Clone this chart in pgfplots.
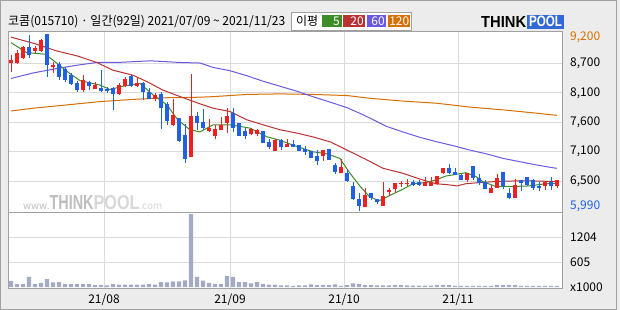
\documentclass[border=0pt]{standalone}
\usepackage{pgfplots}
\pgfplotsset{compat=1.18}
\usepackage{pgfplotstable}
\usepackage{graphicx}
\usepackage{fontspec}
\setmainfont{Noto Sans CJK KR}
\newfontfamily\logofont{Liberation Sans}
\definecolor{cBg}{RGB}{236,236,236}
\definecolor{cFrame}{RGB}{160,160,160}
\definecolor{cGrid}{RGB}{218,218,218}
\definecolor{cUp}{RGB}{238,32,32}
\definecolor{cDown}{RGB}{32,96,228}
\definecolor{cMAa}{RGB}{60,140,40}
\definecolor{cMAb}{RGB}{185,50,50}
\definecolor{cMAc}{RGB}{105,90,225}
\definecolor{cMAd}{RGB}{215,110,0}
\definecolor{cVol}{RGB}{162,170,196}
\definecolor{cLogo}{RGB}{50,105,215}
\definecolor{cWm}{RGB}{190,190,190}
\definecolor{cWmL}{RGB}{215,215,215}

\pgfplotstableread{
i o h l c
0 8670 8820 8510 8720
1 8670 8910 8660 8860
2 8760 8970 8750 8960
4 8880 8970 8860 8940
5 8890 9100 8870 9090
7 8590 8690 8480 8640
12 8180 8450 8150 8360
14 8200 8330 8200 8270
18 8110 8300 8090 8270
19 8250 8420 8240 8380
21 8250 8420 8240 8310
24 8020 8120 7990 8090
27 7550 8010 7520 7730
30 6970 8470 6970 7710
33 7440 7650 7420 7500
34 7350 7550 7290 7470
35 7460 7690 7460 7550
36 7580 7850 7400 7710
40 7380 7500 7360 7470
41 7380 7470 7350 7460
44 7080 7290 7080 7270
46 7140 7300 7140 7200
52 6990 7090 6890 7090
55 6680 6930 6680 6790
59 6050 6400 6050 6280
62 6080 6510 6080 6260
63 6330 6400 6260 6370
64 6380 6490 6310 6490
65 6470 6530 6420 6490
66 6480 6570 6440 6490
69 6440 6610 6440 6510
70 6430 6610 6430 6520
71 6480 6620 6460 6620
72 6680 6770 6660 6770
76 6550 6680 6520 6670
80 6320 6460 6320 6410
81 6410 6660 6400 6580
84 6230 6570 6230 6460
89 6430 6520 6370 6510
91 6440 6550 6410 6550
}\upcandles

\pgfplotstableread{
i o h l c
3 8960 9180 8770 8810
6 9200 9200 8420 8640
8 8650 8690 8370 8420
9 8560 8590 8330 8360
10 8450 8480 8270 8290
11 8300 8350 8150 8180
13 8330 8350 8180 8260
15 8210 8540 8150 8160
16 8200 8240 8130 8160
17 8220 8240 7810 8100
20 8430 8450 8240 8250
22 8310 8330 8000 8150
23 8150 8210 8020 8020
25 8110 8150 7470 7860
26 7930 7970 7550 7620
28 7680 7680 7240 7260
29 7360 7560 6860 6930
31 7710 7790 7460 7580
32 7600 7830 7460 7500
37 7760 7850 7410 7500
38 7580 7580 7350 7350
39 7440 7500 7290 7350
42 7440 7440 7220 7220
43 7230 7290 7110 7140
45 7270 7300 7090 7140
47 7200 7270 7140 7150
48 7180 7180 7080 7080
49 7110 7160 7010 7060
50 7070 7070 6940 6950
51 6980 7090 6820 6900
53 7110 7110 6910 6910
54 6820 6860 6660 6700
56 6670 6740 6520 6530
57 6430 6520 6190 6200
58 6200 6310 5990 6080
60 6310 6310 6190 6230
61 6200 6210 6110 6150
67 6520 6550 6440 6460
68 6520 6550 6440 6460
73 6770 6840 6660 6680
74 6700 6770 6630 6640
75 6630 6660 6550 6550
77 6800 6800 6550 6590
78 6580 6660 6460 6490
79 6510 6550 6380 6380
82 6690 6690 6380 6430
83 6320 6400 6200 6230
85 6550 6550 6350 6490
86 6600 6610 6430 6460
87 6550 6570 6370 6410
88 6440 6520 6350 6410
90 6510 6610 6370 6440
}\downcandles

\pgfplotstableread{
i v
0 149
1 75
2 75
3 246
4 75
5 100
6 197
7 117
8 124
9 75
10 75
11 75
12 75
13 70
14 51
15 51
16 45
17 75
18 60
19 60
20 60
21 60
22 60
23 75
24 60
25 124
26 117
27 141
28 141
29 166
30 1780
31 246
32 158
33 100
34 75
35 75
36 270
37 246
38 124
39 124
40 90
41 124
42 75
43 60
44 60
45 45
46 45
47 27
48 45
49 45
50 68
51 51
52 51
53 51
54 68
55 27
56 51
57 92
58 75
59 51
60 51
61 45
62 45
63 45
64 51
65 51
66 40
67 35
68 35
69 35
70 35
71 51
72 51
73 51
74 30
75 30
76 30
77 30
78 30
79 30
80 30
81 51
82 51
83 51
84 51
85 30
86 30
87 30
88 30
89 30
90 30
91 30
}\voldata

\begin{document}
\begin{tikzpicture}
\path[use as bounding box] (0,0) rectangle (620bp,-310bp);
\fill[cBg] (0,0) rectangle (620bp,-310bp);
\draw[cFrame, line width=1bp] (0.5bp,-0.5bp) rectangle (616.5bp,-309.5bp);
\fill[white] (8bp,-31bp) rectangle (562bp,-288bp);

% title
\node[anchor=west, inner sep=0pt] at (8bp,-22bp)
  {\resizebox{277bp}{\height}{\fontsize{12.5bp}{13bp}\selectfont 코콤(015710) · 일간(92일) 2021/07/09 \textasciitilde\ 2021/11/23}};

% moving-average legend
\draw[cFrame, fill=white, line width=1bp] (291.5bp,-12.5bp) rectangle (411.5bp,-30bp);
\node[anchor=west, inner sep=0pt, font=\fontsize{12bp}{12bp}\selectfont] at (296bp,-21.5bp) {이평};
\fill[cMAa] (321.5bp,-15bp) rectangle (341.5bp,-27bp);
\fill[cMAb] (343bp,-15bp) rectangle (365bp,-27bp);
\fill[cMAc] (366.5bp,-15bp) rectangle (386bp,-27bp);
\fill[cMAd] (387.5bp,-15bp) rectangle (410bp,-27bp);
\node[anchor=east, inner sep=0pt, text=white, font=\fontsize{12bp}{12bp}\selectfont] at (340bp,-21bp) {5};
\node[anchor=east, inner sep=0pt, text=white, font=\fontsize{12bp}{12bp}\selectfont] at (364bp,-21bp) {20};
\node[anchor=east, inner sep=0pt, text=white, font=\fontsize{12bp}{12bp}\selectfont] at (385bp,-21bp) {60};
\node[anchor=east, inner sep=0pt, text=white, font=\fontsize{12bp}{12bp}\selectfont] at (409.5bp,-21bp) {120};

% logo
\node[anchor=west, inner sep=0pt] at (481bp,-22bp) {\resizebox{45bp}{11bp}{\logofont\bfseries THINK}};
\fill[cLogo] (527bp,-15bp) rectangle (564bp,-28.5bp);
\node[anchor=center, inner sep=0pt, text=white] at (545.5bp,-21.8bp) {\resizebox{33bp}{10.5bp}{\logofont\bfseries POOL}};

% price panel
\begin{axis}[
  at={(8bp,-31bp)}, anchor=north west,
  scale only axis, width=554bp, height=181bp,
  xmin=-0.5, xmax=91.83, ymin=5967, ymax=9251,
  axis line style={draw=cFrame, line width=1bp},
  major tick length=0pt,
  xtick={15.5,36.5,55.5,74.5}, xticklabels={},
  ytick={6525,7060,7595,8130,8665},
  yticklabels={{6,500},{7,100},{7,600},{8,100},{8,700}},
  yticklabel pos=right,
  yticklabel style={anchor=west, inner sep=0pt, xshift=8bp, font=\fontsize{12bp}{12bp}\selectfont},
  grid=major, grid style={draw=cGrid, line width=1bp},
]
\addplot[cMAd, line width=1bp, sharp plot] coordinates {(0,7800) (3.7,7850) (9.3,7910) (14.8,7970) (20.3,8010) (26,8040) (31.5,8050) (33.7,8060) (39.3,8100) (44.8,8110) (50.3,8100) (56,8080) (59.8,8030) (65.3,7980) (71,7940) (76.5,7870) (82,7820) (87.6,7760) (91,7720)};
\addplot[cMAc, line width=1bp, sharp plot] coordinates {(0,8390) (3.7,8490) (7.6,8570) (11,8630) (14.3,8680) (17.7,8680) (23.2,8710) (28.2,8680) (31.5,8670) (33.7,8590) (36.5,8530) (39.3,8440) (42,8340) (44.8,8250) (47.6,8160) (50.3,8060) (53.2,7960) (56,7860) (58.7,7730) (61.5,7580) (62.6,7520) (65.3,7420) (68.2,7320) (71,7240) (73.7,7170) (76.5,7090) (79.3,7020) (82,6940) (84.8,6880) (87.6,6820) (90.3,6770) (91,6760)};
\addplot[cMAb, line width=1bp, sharp plot] coordinates {(0,9140) (3.7,9030) (7.6,8890) (11,8800) (14.3,8680) (17,8540) (20.3,8450) (22.7,8330) (25.3,8180) (28.2,8060) (31.5,7930) (33.7,7850) (36.5,7790) (39.3,7640) (42,7550) (44.8,7460) (47.6,7400) (50.3,7330) (53.2,7240) (56,7090) (59,6930) (62,6760) (65.3,6670) (68,6570) (70.8,6480) (73,6460) (74.3,6440) (75.8,6480) (78,6500) (80.8,6520) (83.6,6530) (87,6530) (91,6520)};
\addplot[cMAa, line width=1bp, sharp plot] coordinates {(0,9040) (2.6,8860) (5.7,8830) (7.6,8670) (9.8,8480) (11.5,8350) (14.8,8270) (16.5,8190) (18.7,8250) (21.5,8300) (23.7,8090) (26,7910) (27.7,7650) (29.8,7460) (31.5,7420) (33.7,7550) (36.5,7550) (39.8,7490) (42.7,7330) (44.8,7270) (47,7180) (50.3,7060) (52.7,7020) (54.8,6940) (56.5,6670) (58.2,6430) (59.7,6250) (61.3,6170) (63,6260) (65.3,6380) (67,6480) (69.2,6500) (70.8,6550) (72.5,6620) (74.2,6650) (75.8,6680) (77.5,6610) (78.6,6520) (80.8,6430) (83.6,6430) (86.3,6440) (89.2,6480) (91,6490)};
% wicks
\addplot[draw=none, forget plot, error bars/.cd, y dir=plus, y explicit, error mark=none,
  error bar style={draw=cUp, line width=1bp}]
  table[x=i, y=l, y error plus expr=\thisrow{h}-\thisrow{l}] {\upcandles};
\addplot[draw=none, forget plot, error bars/.cd, y dir=plus, y explicit, error mark=none,
  error bar style={draw=cDown, line width=1bp}]
  table[x=i, y=l, y error plus expr=\thisrow{h}-\thisrow{l}] {\downcandles};
% bodies
\addplot[draw=none, forget plot, error bars/.cd, y dir=plus, y explicit, error mark=none,
  error bar style={draw=cUp, line width=4.4bp}]
  table[x=i, y=o, y error plus expr=\thisrow{c}-\thisrow{o}] {\upcandles};
\addplot[draw=none, forget plot, error bars/.cd, y dir=plus, y explicit, error mark=none,
  error bar style={draw=cDown, line width=4.4bp}]
  table[x=i, y=c, y error plus expr=\thisrow{o}-\thisrow{c}] {\downcandles};
\end{axis}

% watermark
\node[anchor=base west, inner sep=0pt, text=cWm] at (23bp,-209bp)
  {\fontsize{10bp}{10bp}\selectfont www.\resizebox{44bp}{14bp}{\logofont\bfseries THINK}\textcolor{cWmL}{\resizebox{46bp}{14bp}{\logofont\bfseries POOL}}\textcolor{cWmL}{.com}};

% volume panel
\begin{axis}[
  at={(8bp,-212bp)}, anchor=north west,
  scale only axis, width=554bp, height=76bp,
  xmin=-0.5, xmax=91.83, ymin=-22, ymax=1829,
  axis line style={draw=cFrame, line width=1bp},
  major tick length=0pt,
  xtick={15.5,36.5,55.5,74.5}, xticklabels={21/08,21/09,21/10,21/11},
  xticklabel style={anchor=center, yshift=-12bp, font=\fontsize{12bp}{12bp}\selectfont},
  ytick={605,1204}, yticklabels={605,1204},
  extra y ticks={0}, extra y tick labels={x1000},
  extra y tick style={grid=none},
  yticklabel pos=right,
  yticklabel style={anchor=west, inner sep=0pt, xshift=8bp, font=\fontsize{12bp}{12bp}\selectfont},
  grid=major, grid style={draw=cGrid, line width=1bp},
]
\addplot[ybar, bar width=4.4bp, draw=none, fill=cVol] table[x=i, y=v] {\voldata};
\end{axis}

% highest / lowest price labels
\node[anchor=west, inner sep=0pt, text=cMAd, font=\fontsize{12bp}{12bp}\selectfont] at (570bp,-37bp) {9,200};
\node[anchor=west, inner sep=0pt, text=cDown, font=\fontsize{12bp}{12bp}\selectfont] at (570bp,-206.5bp) {5,990};
\end{tikzpicture}
\end{document}
